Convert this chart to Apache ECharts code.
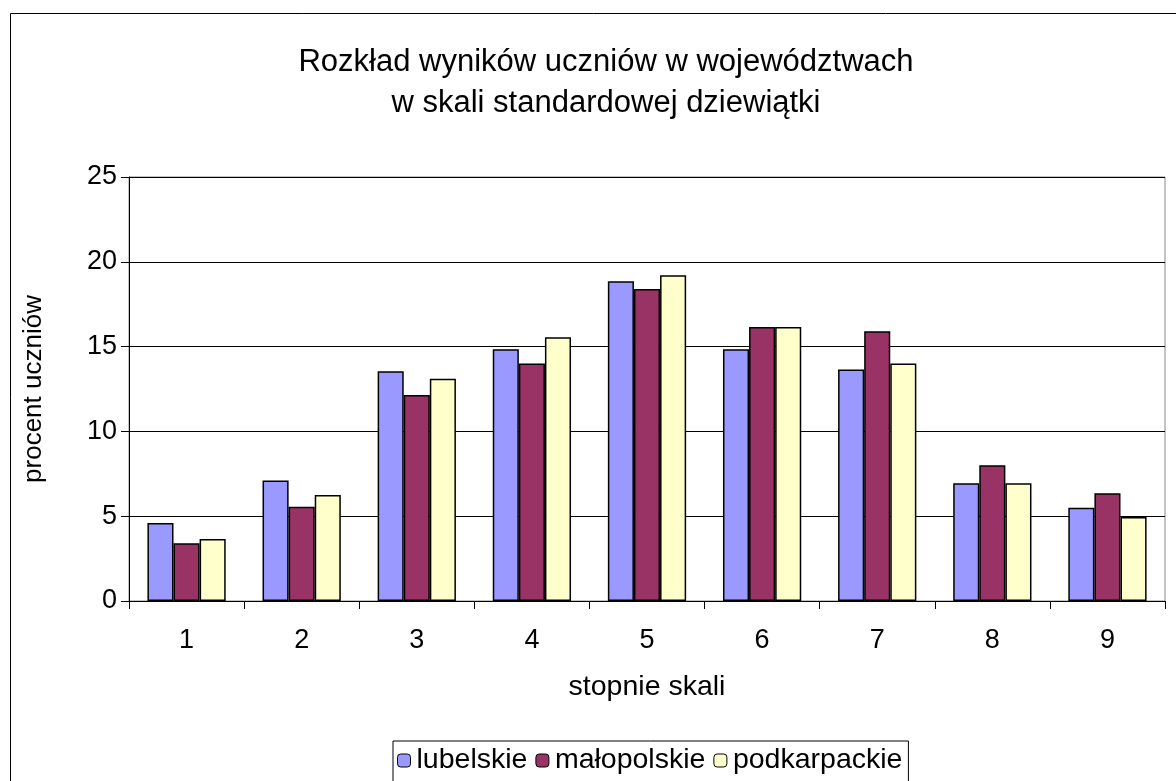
<!DOCTYPE html>
<html><head><meta charset="utf-8">
<script src="https://cdn.jsdelivr.net/npm/echarts@6/dist/echarts.min.js"></script>
<style>html,body{margin:0;padding:0;background:#fff}#c{width:1176px;height:781px}</style>
</head><body><div id="c"></div>
<script>
const categories = ['1','2','3','4','5','6','7','8','9'];
const lubelskie = [4.6, 7.1, 13.55, 14.85, 18.85, 14.85, 13.65, 6.95, 5.5];
const malopolskie = [3.4, 5.55, 12.15, 14.0, 18.4, 16.15, 15.9, 8.0, 6.35];
const podkarpackie = [3.65, 6.25, 13.1, 15.55, 19.2, 16.15, 14.0, 6.95, 4.95];
const seriesNames = ['lubelskie', 'małopolskie', 'podkarpackie'];
const colors = ['#9999FF', '#993366', '#FFFFCC'];
const FONT = 'Liberation Sans, Arial, sans-serif';
const FS = 27;
const chart = echarts.init(document.getElementById('c'));
const mk = (name, data, color) => ({
  name, type: 'bar', data, barGap: '0%', barCategoryGap: '32%',
  itemStyle: {color, borderColor: '#000', borderWidth: 1.5},
  emphasis: {disabled: true}
});
chart.setOption({
  animation: false,
  graphic: [{type: 'rect', shape: {x: 10.5, y: 13.5, width: 1200, height: 900}, style: {fill: 'none', stroke: '#000', lineWidth: 1}, silent: true}],
  title: {
    text: 'Rozkład wyników uczniów w województwach\nw skali standardowej dziewiątki',
    left: 601, top: 37, textAlign: 'center',
    textStyle: {fontFamily: FONT, fontSize: 31, fontWeight: 'normal', color: '#000', lineHeight: 41}
  },
  legend: {
    data: seriesNames, top: 741, left: 393,
    itemWidth: 13, itemHeight: 13, itemGap: 8,
    borderColor: '#000', borderWidth: 1, padding: [5, 6, 40, 4],
    textStyle: {fontFamily: FONT, fontSize: 28.5, color: '#000', padding: [0, 0, 0, 1]},
    itemStyle: {borderColor: '#000', borderWidth: 1}
  },
  grid: {left: 129, right: 11, top: 177, bottom: 180, show: true, borderColor: '#888', borderWidth: 1},
  xAxis: {
    type: 'category', data: categories,
    name: 'stopnie skali', nameLocation: 'middle', nameGap: 72,
    nameTextStyle: {fontFamily: FONT, fontSize: 28.5, color: '#000'},
    axisLine: {lineStyle: {color: '#000', width: 1}},
    axisTick: {show: true, length: 8, lineStyle: {color: '#000'}},
    axisLabel: {fontFamily: FONT, fontSize: FS, color: '#000', margin: 26}
  },
  yAxis: {
    type: 'value', min: 0, max: 25, interval: 5,
    name: 'procent uczniów', nameLocation: 'middle', nameGap: 82,
    nameTextStyle: {fontFamily: FONT, fontSize: 26, color: '#000'},
    axisLine: {show: true, lineStyle: {color: '#000', width: 1}},
    axisTick: {show: true, length: 8, lineStyle: {color: '#000'}},
    axisLabel: {fontFamily: FONT, fontSize: FS, color: '#000', margin: 12},
    splitLine: {lineStyle: {color: '#000', width: 1}}
  },
  series: [mk(seriesNames[0], lubelskie, colors[0]), mk(seriesNames[1], malopolskie, colors[1]), mk(seriesNames[2], podkarpackie, colors[2])]
});
</script></body></html>
